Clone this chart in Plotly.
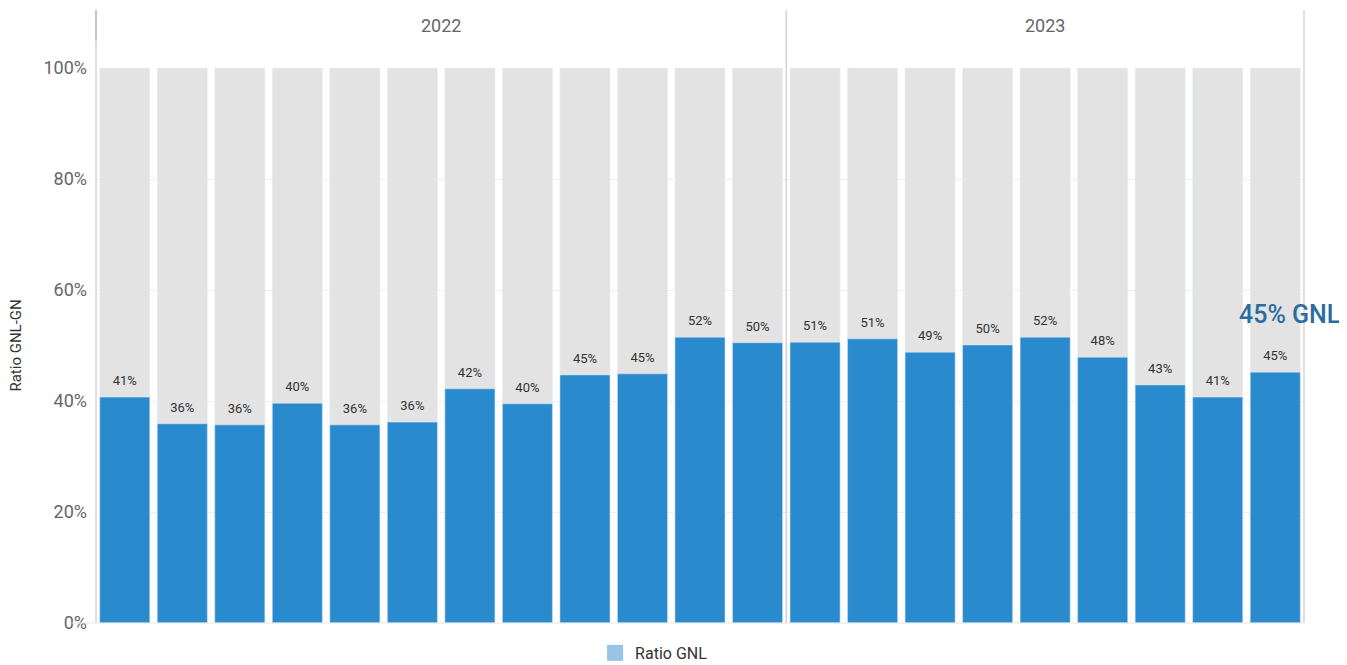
import plotly.graph_objects as go

months = ["2022-01","2022-02","2022-03","2022-04","2022-05","2022-06","2022-07","2022-08","2022-09","2022-10","2022-11","2022-12",
          "2023-01","2023-02","2023-03","2023-04","2023-05","2023-06","2023-07","2023-08","2023-09"]
ratio_gnl = [0.407,0.359,0.357,0.396,0.357,0.362,0.422,0.395,0.447,0.449,0.515,0.505,
             0.506,0.512,0.488,0.501,0.515,0.479,0.429,0.407,0.452]
total = [1.0]*len(months)
years = ["2022","2023"]
year_counts = [12, 9]
y_ticks = [0,0.2,0.4,0.6,0.8,1.0]
y_ticklabels = ["0%","20%","40%","60%","80%","100%"]
callout = "45% GNL"

FONT = "Roboto"
n = len(months)
x = list(range(n))

fig = go.Figure()
fig.add_trace(go.Bar(x=x, y=total, marker_color="#e3e3e3", showlegend=False, hoverinfo="skip"))
fig.add_trace(go.Bar(x=x, y=ratio_gnl, marker_color="#2a8ace", showlegend=False))
fig.add_trace(go.Scatter(x=x, y=ratio_gnl, mode="markers+text", showlegend=False, hoverinfo="skip",
                         marker=dict(size=12, color="rgba(0,0,0,0)"),
                         text=[f"{round(v*100)}%" for v in ratio_gnl], textposition="top center",
                         textfont=dict(size=13, color="#333333", family=FONT), cliponaxis=False))
fig.add_trace(go.Scatter(x=[None], y=[None], mode="markers", name="Ratio GNL",
                         marker=dict(symbol="square", size=20, color="#96c5e6")))

shapes = []
bounds = [0]
for c in year_counts:
    bounds.append(bounds[-1] + c)
for b in bounds:
    xp = b / n
    shapes.append(dict(type="line", xref="paper", yref="paper", x0=xp, x1=xp, y0=0, y1=1.104,
                       line=dict(color="#d4d4d4", width=1.5)))
shapes.append(dict(type="line", xref="paper", yref="paper", x0=0, x1=0, y0=1.05, y1=1.104,
                   line=dict(color="#bdbdbd", width=1.5)))
shapes.append(dict(type="line", xref="paper", yref="paper", x0=-0.02, x1=1, y0=0, y1=0,
                   line=dict(color="#e6e6e6", width=1)))

annotations = []
for i, yr in enumerate(years):
    mid = (bounds[i] + bounds[i+1]) / 2 / n
    annotations.append(dict(text=yr, xref="paper", yref="paper", x=mid, y=1.077, showarrow=False,
                            xanchor="center", yanchor="middle",
                            font=dict(size=18, color="#666666", family=FONT)))
annotations.append(dict(text=callout, xref="x", yref="y", x=n-1+0.25, y=0.556, showarrow=False,
                        xanchor="center", yanchor="middle",
                        font=dict(size=25, color="#2a6c9f", family=FONT, weight=500)))
annotations.append(dict(text="Ratio GNL-GN", xref="paper", yref="paper", x=-0.067, y=0.5,
                        xanchor="center", yanchor="middle", textangle=-90, showarrow=False,
                        font=dict(size=15, color="#333333", family=FONT)))

fig.update_layout(
    width=1339, height=657,
    margin=dict(l=88, r=43, t=60, b=42, autoexpand=False),
    barmode="overlay", bargap=0.13,
    plot_bgcolor="white", paper_bgcolor="white",
    font=dict(family=FONT),
    shapes=shapes, annotations=annotations,
    xaxis=dict(range=[-0.5, n-0.5], showticklabels=False, showgrid=False, zeroline=False,
               fixedrange=True, automargin=False),
    yaxis=dict(range=[0, 1.0], tickvals=y_ticks, ticktext=y_ticklabels, automargin=False,
               tickfont=dict(size=18, color="#666666", family=FONT), ticklabelstandoff=8,
               showgrid=True, gridcolor="#efefef", zeroline=False, ticks="", ticklen=0),
    legend=dict(orientation="h", x=0.462, xanchor="center", xref="paper",
                y=-0.054, yanchor="middle", yref="paper",
                font=dict(size=16, color="#333333", family=FONT)),
    showlegend=True,
)

fig.write_html("out.html")
